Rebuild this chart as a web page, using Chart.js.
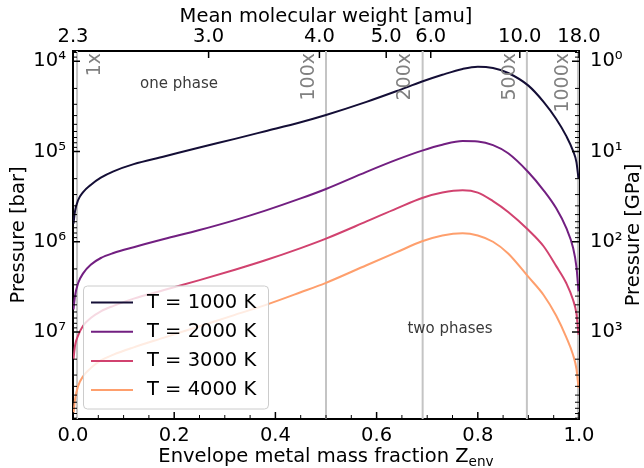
<!DOCTYPE html>
<html lang="en">
<head>
<meta charset="UTF-8">
<title>Pressure vs envelope metal mass fraction</title>
<style>
  html, body { margin: 0; padding: 0; background: #fff; }
  #wrap { width: 644px; height: 468px; position: relative; }
</style>
</head>
<body>
<div id="wrap"><canvas id="chart"></canvas></div>
<script src="https://cdn.jsdelivr.net/npm/chart.js@4"></script>
<script>
// envelope metal mass fraction (x)
const zEnv = [0.001, 0.004, 0.01, 0.02, 0.035, 0.055, 0.08, 0.12, 0.18, 0.25, 0.32, 0.38, 0.45, 0.50,
  0.58, 0.64, 0.69, 0.73, 0.77, 0.80, 0.83, 0.86, 0.90, 0.93, 0.955, 0.975, 0.988, 0.995, 0.999];

// log10 of pressure in bar
const logP1000 = [5.80, 5.66, 5.54, 5.45, 5.37, 5.29, 5.22, 5.14, 5.055, 4.955, 4.86, 4.775, 4.675, 4.595,
  4.45, 4.33, 4.225, 4.15, 4.085, 4.06, 4.075, 4.13, 4.27, 4.45, 4.64, 4.83, 4.99, 5.12, 5.30];
const logP2000 = [6.75, 6.60, 6.46, 6.35, 6.255, 6.18, 6.125, 6.06, 5.97, 5.87, 5.76, 5.655, 5.52, 5.415,
  5.225, 5.09, 4.99, 4.925, 4.885, 4.89, 4.93, 5.02, 5.23, 5.43, 5.63, 5.85, 6.06, 6.28, 6.55];
const logP3000 = [7.30, 7.15, 7.04, 6.93, 6.845, 6.77, 6.71, 6.63, 6.535, 6.425, 6.31, 6.205, 6.07, 5.965,
  5.775, 5.63, 5.515, 5.455, 5.43, 5.455, 5.55, 5.67, 5.87, 6.05, 6.27, 6.46, 6.64, 6.80, 7.03];
const logP4000 = [7.90, 7.75, 7.60, 7.49, 7.40, 7.315, 7.25, 7.17, 7.062, 6.936, 6.81, 6.702, 6.56, 6.455,
  6.26, 6.115, 5.995, 5.93, 5.905, 5.93, 6.00, 6.13, 6.39, 6.59, 6.82, 7.06, 7.25, 7.41, 7.62];

const seriesLabels = ['T = 1000 K', 'T = 2000 K', 'T = 3000 K', 'T = 4000 K'];
const seriesColors = ['#140e36', '#721f81', '#d1426f', '#fe9f6d'];

// top axis: mean molecular weight
const topTickZ = [0, 0.268, 0.487, 0.619, 0.707, 0.883, 1.0];
const topTickLabels = ['2.3', '3.0', '4.0', '5.0', '6.0', '10.0', '18.0'];

// metallicity reference lines and their labels
const refLineZ = [0.008, 0.5, 0.691, 0.897, 0.998];
const refLabels = ['1x', '100x', '200x', '500x', '1000x'];
const refLabelZ = [0.044, 0.466, 0.656, 0.864, 0.969];

const yRangeBar = [7.7e3, 9.2e7];
const BAR_PER_GPA = 1e4;

const FONT = "'DejaVu Sans', sans-serif";
Chart.defaults.font.family = FONT;
Chart.defaults.color = '#000';

const SUP = '⁰¹²³⁴⁵⁶⁷⁸⁹';
const sup = n => String(n).split('').map(d => SUP[+d]).join('');
const isDecade = v => { const e = Math.log10(v); return Math.abs(e - Math.round(e)) < 1e-6; };

function logTicks(min, max) {
  const out = [];
  for (let e = Math.floor(Math.log10(min)); e <= Math.ceil(Math.log10(max)); e++) {
    for (let m = 1; m <= 9; m++) {
      const v = m * Math.pow(10, e);
      if (v >= min * 0.9999 && v <= max * 1.0001) out.push({ value: v });
    }
  }
  return out;
}

const datasets = [logP1000, logP2000, logP3000, logP4000].map((arr, i) => ({
  label: seriesLabels[i],
  data: zEnv.map((z, j) => ({ x: z, y: Math.pow(10, arr[j]) })),
  borderColor: seriesColors[i],
  borderWidth: 2,
  pointRadius: 0,
  fill: false,
  cubicInterpolationMode: 'monotone',
  xAxisID: 'x',
  yAxisID: 'y'
}));

function drawInTicks(ctx, scale, side, a) {
  scale.ticks.forEach(t => {
    let major;
    if (scale.type === 'logarithmic') major = isDecade(t.value);
    else if (scale.id === 'x') major = Math.abs(t.value * 5 - Math.round(t.value * 5)) < 1e-6;
    else major = true;
    const len = major ? 7 : 4;
    ctx.lineWidth = major ? 1.5 : 1;
    const p = scale.getPixelForValue(t.value);
    ctx.beginPath();
    if (side === 'left') { ctx.moveTo(a.left, p); ctx.lineTo(a.left + len, p); }
    if (side === 'right') { ctx.moveTo(a.right, p); ctx.lineTo(a.right - len, p); }
    if (side === 'bottom') { ctx.moveTo(p, a.bottom); ctx.lineTo(p, a.bottom - len); }
    if (side === 'top') { ctx.moveTo(p, a.top); ctx.lineTo(p, a.top + len); }
    ctx.stroke();
  });
}

const decor = {
  id: 'decor',
  beforeDatasetsDraw(chart) {
    const { ctx, chartArea: a, scales: { x } } = chart;
    ctx.save();
    ctx.strokeStyle = '#c4c4c4';
    ctx.lineWidth = 2;
    refLineZ.forEach(z => {
      const px = x.getPixelForValue(z);
      ctx.beginPath(); ctx.moveTo(px, a.top); ctx.lineTo(px, a.bottom); ctx.stroke();
    });
    ctx.restore();
  },
  afterDatasetsDraw(chart) {
    const { ctx, chartArea: a, scales: { x } } = chart;
    ctx.save();
    // metallicity labels
    ctx.fillStyle = '#808080';
    ctx.font = '19px ' + FONT;
    ctx.textAlign = 'right';
    ctx.textBaseline = 'middle';
    refLabels.forEach((lab, i) => {
      ctx.save();
      ctx.translate(x.getPixelForValue(refLabelZ[i]), a.top + 2);
      ctx.rotate(-Math.PI / 2);
      ctx.fillText(lab, 0, 0);
      ctx.restore();
    });
    // phase annotations
    ctx.fillStyle = '#3a3a3a';
    ctx.font = '15px ' + FONT;
    ctx.textAlign = 'center';
    ctx.textBaseline = 'alphabetic';
    ctx.fillText('one phase', 179, 88);
    ctx.fillText('two phases', 450, 333);

    // legend
    const lx = a.left + 10, ly = a.bottom - 133.5, lw = 185, lh = 123;
    ctx.beginPath();
    ctx.roundRect(lx + 0.5, ly + 0.5, lw, lh, 4);
    ctx.fillStyle = 'rgba(255,255,255,0.8)';
    ctx.fill();
    ctx.strokeStyle = '#cccccc';
    ctx.lineWidth = 1;
    ctx.stroke();
    ctx.font = '19.5px ' + FONT;
    ctx.textAlign = 'left';
    ctx.textBaseline = 'middle';
    seriesLabels.forEach((lab, i) => {
      const ry = ly + 17 + i * 29.2;
      ctx.strokeStyle = seriesColors[i];
      ctx.lineWidth = 2;
      ctx.beginPath(); ctx.moveTo(lx + 8, ry); ctx.lineTo(lx + 50, ry); ctx.stroke();
      ctx.fillStyle = '#000';
      ctx.fillText(lab, lx + 64, ry);
    });
    ctx.restore();
  },
  afterDraw(chart) {
    const { ctx, chartArea: a, scales } = chart;
    ctx.save();
    ctx.strokeStyle = '#000';
    drawInTicks(ctx, scales.y, 'left', a);
    drawInTicks(ctx, scales.y2, 'right', a);
    drawInTicks(ctx, scales.x, 'bottom', a);
    drawInTicks(ctx, scales.x2, 'top', a);

    const cx = (a.left + a.right) / 2, cy = (a.top + a.bottom) / 2;
    ctx.fillStyle = '#000';
    ctx.font = '19.5px ' + FONT;
    ctx.textBaseline = 'alphabetic';
    ctx.textAlign = 'center';
    ctx.fillText('Mean molecular weight [amu]', cx, 21.5);

    // bottom title with subscript
    const main = 'Envelope metal mass fraction Z', sub = 'env';
    const w1 = ctx.measureText(main).width;
    ctx.font = '13.6px ' + FONT;
    const w2 = ctx.measureText(sub).width;
    const sx = cx - (w1 + w2) / 2;
    ctx.textAlign = 'left';
    ctx.font = '19.5px ' + FONT;
    ctx.fillText(main, sx, 462);
    ctx.font = '13.6px ' + FONT;
    ctx.fillText(sub, sx + w1, 465.5);

    ctx.font = '19.5px ' + FONT;
    ctx.textAlign = 'center';
    [['Pressure [bar]', 24], ['Pressure [GPa]', 639]].forEach(([t, bx]) => {
      ctx.save();
      ctx.translate(bx, cy);
      ctx.rotate(-Math.PI / 2);
      ctx.fillText(t, 0, 0);
      ctx.restore();
    });
    ctx.restore();
  }
};

const tickFont = { size: 19.5, family: FONT };

new Chart(document.getElementById('chart'), {
  type: 'line',
  data: { datasets },
  options: {
    responsive: true,
    maintainAspectRatio: false,
    animation: false,
    layout: { padding: 0 },
    plugins: { legend: { display: false }, tooltip: { enabled: false } },
    scales: {
      x: {
        type: 'linear', position: 'bottom', min: 0, max: 1,
        grid: { display: false },
        border: { display: true, color: '#000', width: 2 },
        afterBuildTicks: s => { const t = []; for (let i = 0; i <= 20; i++) t.push({ value: i / 20 }); s.ticks = t; },
        afterFit: s => { s.height = 49; },
        ticks: {
          font: tickFont, padding: -3, autoSkip: false, maxRotation: 0,
          callback: v => (Math.abs(v * 5 - Math.round(v * 5)) < 1e-6 ? v.toFixed(1) : '')
        }
      },
      x2: {
        type: 'linear', position: 'top', min: 0, max: 1,
        grid: { display: false },
        border: { display: true, color: '#000', width: 2 },
        afterBuildTicks: s => { s.ticks = topTickZ.map(v => ({ value: v })); },
        afterFit: s => { s.height = 51; },
        ticks: {
          font: tickFont, padding: -6, autoSkip: false, maxRotation: 0,
          callback: (v, i) => topTickLabels[i]
        }
      },
      y: {
        type: 'logarithmic', position: 'left', reverse: true,
        min: yRangeBar[0], max: yRangeBar[1],
        grid: { display: false },
        border: { display: true, color: '#000', width: 2 },
        afterBuildTicks: s => { s.ticks = logTicks(yRangeBar[0], yRangeBar[1]); },
        afterFit: s => { s.width = 73; },
        ticks: {
          font: tickFont, padding: -1, autoSkip: false,
          callback: v => (isDecade(v) ? '10' + sup(Math.round(Math.log10(v))) : '')
        }
      },
      y2: {
        type: 'logarithmic', position: 'right', reverse: true,
        min: yRangeBar[0] / BAR_PER_GPA, max: yRangeBar[1] / BAR_PER_GPA,
        grid: { display: false },
        border: { display: true, color: '#000', width: 2 },
        afterBuildTicks: s => { s.ticks = logTicks(yRangeBar[0] / BAR_PER_GPA, yRangeBar[1] / BAR_PER_GPA); },
        afterFit: s => { s.width = 65; },
        ticks: {
          font: tickFont, padding: 3, autoSkip: false,
          callback: v => (isDecade(v) ? '10' + sup(Math.round(Math.log10(v))) : '')
        }
      }
    }
  },
  plugins: [decor]
});
</script>
</body>
</html>
